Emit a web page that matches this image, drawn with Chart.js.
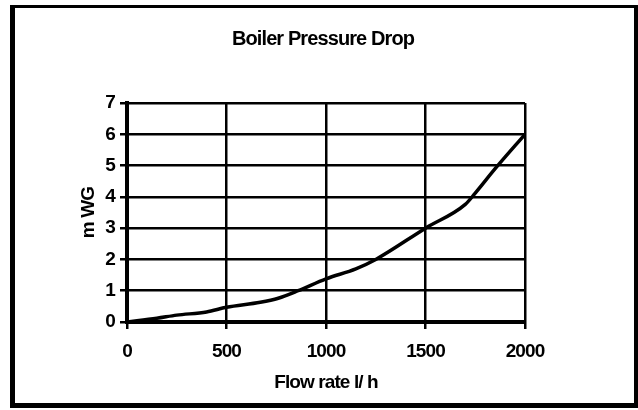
<!DOCTYPE html>
<html>
<head>
<meta charset="utf-8">
<script src="https://cdn.jsdelivr.net/npm/chart.js@4/dist/chart.umd.min.js"></script>
<style>
  html, body { margin: 0; padding: 0; background: #fff; width: 638px; height: 410px; overflow: hidden; }
  #frame { position: absolute; left: 10px; top: 5px; width: 628px; height: 403px; box-sizing: border-box;
           border-style: solid; border-color: #000; border-width: 3px 4px 5px 5px; }
  #wrap { position: absolute; left: 0; top: 0; width: 638px; height: 410px; }
</style>
</head>
<body>
<div id="frame"></div>
<div id="wrap"><canvas id="c" width="638" height="410"></canvas></div>
<script>
const flowRate = [0, 150, 250, 400, 500, 670, 760, 860, 1000, 1150, 1250, 1500, 1700, 1750, 1850, 2000];
const pressureDrop = [0, 0.12, 0.22, 0.32, 0.47, 0.63, 0.76, 1.0, 1.38, 1.7, 2.0, 3.0, 3.76, 4.12, 4.9, 6.0];
const xTicks = [0, 500, 1000, 1500, 2000];
const yTicks = [0, 1, 2, 3, 4, 5, 6, 7];
const titleText = 'Boiler Pressure Drop';
const xTitle = 'Flow rate l/ h';
const yTitle = 'm WG';

const FAM = "'Liberation Sans', Arial, sans-serif";
const FS = 19;
const points = flowRate.map((x, i) => ({ x: x, y: pressureDrop[i] }));

const tightText = {
  id: 'tightText',
  beforeUpdate(chart) { chart.ctx.letterSpacing = '-0.9px'; },
  afterLayout(chart) {
    // centre the chart title on the whole framed panel
    if (chart.titleBlock) { chart.titleBlock.left = 10; chart.titleBlock.right = 636; }
  },
  beforeDraw(chart) { chart.ctx.letterSpacing = '-0.9px'; }
};

new Chart(document.getElementById('c'), {
  type: 'line',
  data: { datasets: [{ data: points, borderColor: '#000', borderWidth: 3.5, pointRadius: 0,
                       cubicInterpolationMode: 'monotone', fill: false }] },
  options: {
    responsive: false, animation: false, devicePixelRatio: 1,
    layout: { padding: { left: 9, right: 113, top: 10, bottom: 12 } },
    plugins: {
      legend: { display: false }, tooltip: { enabled: false },
      title: { display: true, text: titleText, color: '#000',
               font: { family: FAM, size: 20, weight: 'bold', lineHeight: 1.2 },
               padding: { top: 17, bottom: 52 } }
    },
    scales: {
      x: {
        type: 'linear', min: xTicks[0], max: xTicks[xTicks.length - 1],
        afterBuildTicks: s => { s.ticks = xTicks.map(v => ({ value: v })); },
        afterFit: s => { s.height = 76; },
        grid: { color: '#000', lineWidth: 2.5, tickLength: 7, tickColor: '#000', tickWidth: 2.5 },
        border: { color: '#000', width: 4 },
        ticks: { color: '#000', padding: 11, maxRotation: 0, callback: v => String(v),
                 font: { family: FAM, size: FS, weight: 'bold' } },
        title: { display: true, text: xTitle, color: '#000', padding: { top: 0, bottom: 3.5 },
                 font: { family: FAM, size: FS, weight: 'bold', lineHeight: 1.2 } }
      },
      y: {
        type: 'linear', min: yTicks[0], max: yTicks[yTicks.length - 1],
        afterBuildTicks: s => { s.ticks = yTicks.map(v => ({ value: v })); },
        afterFit: s => { s.width = 118; },
        grid: { color: '#000', lineWidth: 2.5, tickLength: 7, tickColor: '#000', tickWidth: 2.5 },
        border: { color: '#000', width: 4 },
        ticks: { color: '#000', padding: 5, callback: v => String(v),
                 font: { family: FAM, size: FS, weight: 'bold' } },
        title: { display: true, text: yTitle, color: '#000', padding: { top: 68, bottom: 0 },
                 font: { family: FAM, size: FS, weight: 'bold', lineHeight: 1.2 } }
      }
    }
  },
  plugins: [tightText]
});
</script>
</body>
</html>
